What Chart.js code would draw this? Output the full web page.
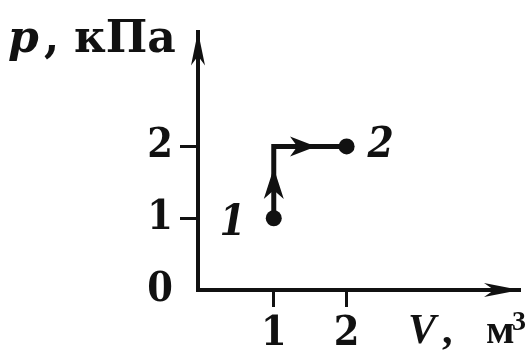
<!DOCTYPE html>
<html lang="ru">
<head>
<meta charset="UTF-8">
<title>p–V диаграмма</title>
<script src="https://cdn.jsdelivr.net/npm/chart.js"></script>
<style>
  html, body { margin: 0; padding: 0; background: #fff; }
</style>
</head>
<body>
<canvas id="pv" width="528" height="353"></canvas>
<script>
// процесс 1 -> 2: изохорный нагрев, затем изобарное расширение
var volumes = [1, 1, 2];        // V, м3
var pressures = [1, 2, 2];      // p, кПа
var stateNames = ['1', '', '2'];
var vTicks = [1, 2];
var pTicks = [0, 1, 2];

var ink = '#111';
var serif = '"Liberation Serif", "Times New Roman", serif';
var digits = '"DejaVu Serif Condensed", "DejaVu Serif", serif';

// наконечник стрелки с вогнутым хвостом, остриё в (x, y)
function arrowHead(ctx, x, y, angle, len, half) {
    ctx.save();
    ctx.translate(x, y);
    ctx.rotate(angle);
    ctx.beginPath();
    ctx.moveTo(0, 0);
    ctx.lineTo(-len, -half);
    ctx.lineTo(-len * 0.72, 0);
    ctx.lineTo(-len, half);
    ctx.closePath();
    ctx.fill();
    ctx.restore();
}

var decor = {
    id: 'decor',
    afterDatasetsDraw: function (chart, args, opts) {
        var ctx = chart.ctx;
        var xs = chart.scales.x, ys = chart.scales.y;
        ctx.save();
        ctx.fillStyle = ink;

        // стрелки на концах осей
        var ox = ys.right, oy = xs.top;
        arrowHead(ctx, xs.right, oy, 0, 36, 7);
        arrowHead(ctx, ox, ys.top, -Math.PI / 2, 34, 7);

        // стрелки направления процесса на каждом участке
        for (var i = 0; i < volumes.length - 1; i++) {
            var x1 = xs.getPixelForValue(volumes[i]), y1 = ys.getPixelForValue(pressures[i]);
            var x2 = xs.getPixelForValue(volumes[i + 1]), y2 = ys.getPixelForValue(pressures[i + 1]);
            var f = opts.arrowAt[i];
            arrowHead(ctx, x1 + (x2 - x1) * f, y1 + (y2 - y1) * f,
                Math.atan2(y2 - y1, x2 - x1), opts.arrowLen[i], 10);
        }

        // номера состояний
        ctx.font = 'italic bold 42px ' + digits;
        ctx.textAlign = 'center';
        ctx.textBaseline = 'middle';
        stateNames.forEach(function (name, i) {
            if (!name) return;
            var off = opts.nameOffset[name];
            ctx.fillText(name,
                xs.getPixelForValue(volumes[i]) + off[0],
                ys.getPixelForValue(pressures[i]) + off[1]);
        });

        // подписи осей
        ctx.textAlign = 'left';
        ctx.textBaseline = 'alphabetic';
        var dv = '"DejaVu Serif", serif';
        ctx.font = 'italic bold 44px ' + dv;
        ctx.fillText('p', 8, 52);
        ctx.font = 'bold 44px ' + dv;
        ctx.fillText(',', 44, 52);
        ctx.fillText('кПа', 74, 52);

        ctx.font = 'italic bold 42px ' + serif;
        ctx.fillText('V', 408, 343);
        ctx.font = 'bold 42px ' + serif;
        ctx.fillText(',', 442, 343);
        ctx.fillText('м', 486, 343);
        ctx.font = 'bold 28px ' + serif;
        ctx.fillText('3', 512, 330);
        ctx.restore();
    }
};

var tickFont = { family: digits, size: 41, weight: 'bold' };

new Chart(document.getElementById('pv'), {
    type: 'scatter',
    data: {
        datasets: [{
            data: volumes.map(function (v, i) { return { x: v, y: pressures[i] }; }),
            showLine: true,
            borderColor: ink,
            borderWidth: 5,
            backgroundColor: ink,
            pointRadius: stateNames.map(function (n) { return n ? 8 : 0; }),
            pointBorderWidth: 0,
            pointBackgroundColor: ink
        }]
    },
    options: {
        responsive: false,
        animation: false,
        layout: { padding: { top: 18, right: 1, left: 0, bottom: 0 } },
        plugins: {
            legend: { display: false },
            tooltip: { enabled: false },
            decor: {
                arrowAt: [0.7, 0.58],
                arrowLen: [31, 26],
                nameOffset: { '1': [-41, 6], '2': [34, 0] }
            }
        },
        scales: {
            x: {
                type: 'linear',
                min: -0.04,
                max: 4.38,
                afterFit: function (s) { s.height = 63; },
                afterBuildTicks: function (s) { s.ticks = vTicks.map(function (v) { return { value: v }; }); },
                border: { display: true, color: ink, width: 4 },
                grid: { drawOnChartArea: false, drawTicks: true, tickLength: 17, tickWidth: 3, tickColor: ink },
                ticks: { color: ink, font: tickFont, padding: 3, maxRotation: 0 }
            },
            y: {
                type: 'linear',
                min: 0,
                max: 3.6,
                afterFit: function (s) { s.width = 198; },
                afterBuildTicks: function (s) { s.ticks = pTicks.map(function (v) { return { value: v }; }); },
                border: { display: true, color: ink, width: 4 },
                grid: {
                    drawOnChartArea: false, drawTicks: true, tickLength: 18, tickWidth: 3,
                    tickColor: function (c) { return c.tick && c.tick.value === 0 ? 'rgba(0,0,0,0)' : ink; }
                },
                ticks: { color: ink, font: tickFont, padding: 7 }
            }
        }
    },
    plugins: [decor]
});
</script>
</body>
</html>
